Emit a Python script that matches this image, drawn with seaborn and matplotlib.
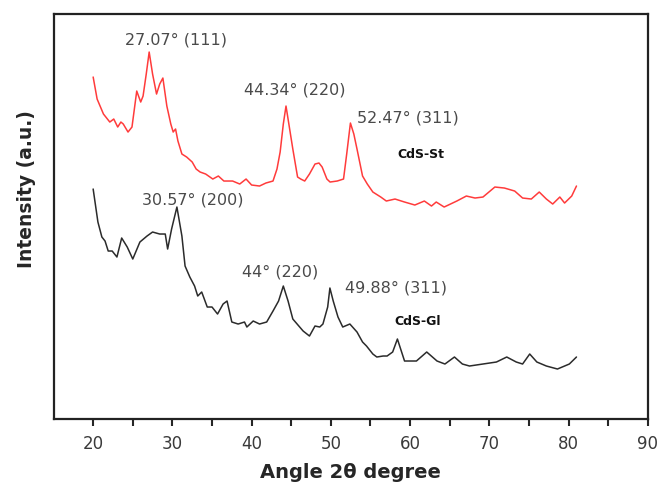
import matplotlib
matplotlib.use("Agg")
import matplotlib.pyplot as plt
import seaborn as sns

# XRD patterns of CdS (intensity in arbitrary units)
st_angle = [20.0, 20.5, 21.3, 22.1, 22.6, 23.1, 23.5, 23.8, 24.4, 24.9, 25.5, 26.0, 26.3, 26.7, 27.07,
            27.5, 28.0, 28.4, 28.8, 29.3, 29.8, 30.1, 30.4, 30.7, 31.2, 31.8, 32.5, 33.0, 33.5, 34.2,
            35.1, 35.8, 36.5, 37.6, 38.5, 39.3, 40.0, 41.0, 41.8, 42.7, 43.2, 43.6, 44.0, 44.34, 44.7,
            45.2, 45.8, 46.2, 46.7, 47.3, 48.0, 48.5, 48.9, 49.5, 49.9, 50.8, 51.6, 52.0, 52.47, 52.9,
            53.3, 54.0, 54.6, 55.3, 56.3, 57.0, 58.1, 59.3, 60.6, 61.8, 62.7, 63.3, 64.3, 65.9, 67.1,
            68.2, 69.2, 70.7, 71.9, 73.2, 74.2, 75.3, 76.3, 77.2, 78.0, 78.9, 79.5, 80.4, 81.0]
st_int = [342, 320, 305, 297, 300, 292, 297, 295, 287, 292, 328, 317, 323, 345, 367,
          345, 325, 335, 341, 313, 295, 287, 290, 278, 265, 262, 257, 250, 247, 245,
          240, 243, 238, 238, 235, 240, 234, 233, 236, 238, 250, 267, 295, 313, 295,
          270, 242, 240, 238, 245, 255, 256, 252, 240, 237, 238, 240, 265, 296, 285,
          270, 243, 235, 227, 222, 218, 220, 217, 214, 218, 213, 217, 212, 218, 223,
          221, 222, 232, 231, 228, 221, 220, 227, 220, 215, 222, 216, 223, 233]

gl_angle = [20.0, 20.6, 21.1, 21.5, 21.9, 22.4, 23.0, 23.6, 24.3, 25.0, 25.9, 26.8, 27.5, 28.4, 29.1,
            29.4, 29.9, 30.57, 31.2, 31.6, 32.2, 32.8, 33.2, 33.7, 34.4, 35.0, 35.7, 36.4, 36.9, 37.5,
            38.3, 39.1, 39.4, 40.2, 41.0, 41.9, 42.7, 43.4, 44.0, 44.6, 45.2, 46.5, 47.3, 48.0, 48.6,
            49.0, 49.6, 49.88, 50.3, 50.9, 51.5, 52.4, 53.3, 54.0, 54.5, 55.3, 55.8, 56.6, 57.1, 57.8,
            58.4, 59.3, 60.8, 62.1, 63.4, 64.4, 65.6, 66.6, 67.5, 69.2, 70.9, 72.2, 73.4, 74.2, 75.1,
            76.0, 77.2, 78.6, 80.1, 81.0]
gl_int = [230, 197, 182, 178, 168, 168, 162, 181, 172, 160, 177, 183, 187, 185, 185,
          170, 190, 212, 183, 153, 142, 133, 123, 127, 112, 112, 105, 115, 118, 97,
          95, 97, 92, 98, 95, 97, 108, 118, 133, 118, 100, 88, 83, 93, 92,
          95, 112, 131, 118, 102, 92, 95, 87, 77, 73, 65, 62, 63, 63, 67,
          80, 58, 58, 67, 58, 55, 62, 55, 53, 55, 57, 62, 57, 55, 65,
          57, 53, 50, 55, 62]

peak_labels = ["27.07° (111)", "44.34° (220)", "52.47° (311)",
               "30.57° (200)", "44° (220)", "49.88° (311)"]
peak_pos = [(30.4, 380), (45.4, 330), (59.7, 302), (32.6, 220), (43.6, 148), (58.2, 132)]
sample_names = ["CdS-St", "CdS-Gl"]
sample_pos = [(61.4, 266), (61.0, 99)]

sns.set_style("ticks")
plt.rcParams["font.family"] = ["DejaVu Sans"]

fig = plt.figure(figsize=(6.61, 4.85), dpi=100)
ax = fig.add_axes([0.081, 0.134, 0.899, 0.835])

sns.lineplot(x=st_angle, y=st_int, color="#ff3b3b", linewidth=1.1, ax=ax)
sns.lineplot(x=gl_angle, y=gl_int, color="#2b2b2b", linewidth=1.1, ax=ax)

for lab, (px, py) in zip(peak_labels, peak_pos):
    ax.text(px, py, lab, ha="center", va="center", fontsize=11.5, color="#4a4a4a")
for lab, (px, py) in zip(sample_names, sample_pos):
    ax.text(px, py, lab, ha="center", va="center", fontsize=9, fontweight="bold", color="#111111")

ax.set_xlim(15, 90)
ax.set_ylim(0, 405)
ax.set_xticks(range(20, 91, 10))
ax.set_xticks(range(25, 90, 10), minor=True)
ax.set_yticks([])
ax.tick_params(axis="x", which="both", direction="out", length=5, width=1.5,
               labelsize=12, labelcolor="#3a3a3a", pad=6)
for s in ax.spines.values():
    s.set_visible(True)
    s.set_linewidth(1.6)
    s.set_color("#222222")

ax.set_xlabel("Angle 2θ degree", fontsize=14, fontweight="bold", labelpad=7)
ax.set_ylabel("Intensity (a.u.)", fontsize=13.5, fontweight="bold")
ax.yaxis.set_label_coords(-0.03, 0.57)

fig.savefig("out.png", dpi=100)
